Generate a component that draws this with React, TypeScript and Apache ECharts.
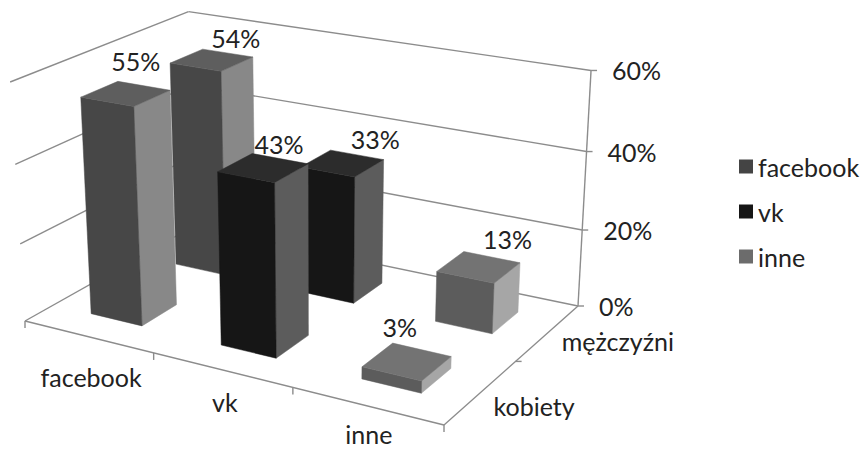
import React, { useEffect, useRef } from "react";
import * as echarts from "echarts";

const categories = ["facebook", "vk", "inne"];
const rows = ["kobiety", "mężczyźni"];
const kobiety = [55, 43, 3];
const mezczyzni = [54, 33, 13];
const tickValues = [0, 20, 40, 60];

const faceColors = [
  { legend: "#444444", front: "#474747", side: "#888888", top: "#5e5e5e" },
  { legend: "#161616", front: "#161616", side: "#5c5c5c", top: "#2c2c2c" },
  { legend: "#6c6c6c", front: "#5c5c5c", side: "#a6a6a6", top: "#737373" },
];
const FONT = '25px Lato';
const TEXT = "#222222";
const LINE = "#8c8c8c";

// perspective frame: floor corners and the vanishing point of the verticals
const floor = { A: [25, 321], B: [444, 425], C: [578, 306], D: [194, 226] };
const VP = [317, 5020];
const K = -0.0484;

function floorMatrix() {
  const [x0, y0] = floor.A, [x1, y1] = floor.B, [x2, y2] = floor.C, [x3, y3] = floor.D;
  const dx1 = x1 - x2, dx2 = x3 - x2, sx = x0 - x1 + x2 - x3;
  const dy1 = y1 - y2, dy2 = y3 - y2, sy = y0 - y1 + y2 - y3;
  const det = dx1 * dy2 - dx2 * dy1;
  const g = (sx * dy2 - dx2 * sy) / det;
  const h = (dx1 * sy - sx * dy1) / det;
  return {
    a: x1 - x0 + g * x1, b: x3 - x0 + h * x3, c: x0,
    d: y1 - y0 + g * y1, e: y3 - y0 + h * y3, f: y0, g, h,
  };
}
const M = floorMatrix();
function project(u: number, v: number, w: number): number[] {
  const n = M.g * u + M.h * v + 1 + K * w;
  return [
    (M.a * u + M.b * v + M.c + K * VP[0] * w) / n,
    (M.d * u + M.e * v + M.f + K * VP[1] * w) / n,
  ];
}
const ratio = (api: any, value: number) => {
  const y0 = api.coord([0, 0])[1];
  const yMax = api.coord([0, tickValues[tickValues.length - 1]])[1];
  return (y0 - api.coord([0, value])[1]) / (y0 - yMax);
};

const HALF_U = 0.2 / 3;
const HALF_V = 0.1;
const rowCentre = [0.255, 0.755];
const labelOffsets = [
  [[10, -33], [16, -24], [-7, -35]],
  [[24, -22], [33, -24], [29, -28]],
];
const catOffsets = [[3, 40], [3, 32], [2, 28]];
const rowOffsets = [[53, 14], [70, 8]];

const line = (p: number[], q: number[]) => ({
  type: "line",
  shape: { x1: p[0], y1: p[1], x2: q[0], y2: q[1] },
  style: { stroke: LINE, lineWidth: 1.4, fill: "none" },
  z2: 1,
  silent: true,
});
const text = (s: string, x: number, y: number, align = "center") => ({
  type: "text",
  x,
  y,
  style: { text: s, font: FONT, lineHeight: 20, fill: TEXT, textAlign: align, textVerticalAlign: "middle" },
  z2: 50,
  silent: true,
});
const poly = (points: number[][], fill: string, z2: number) => ({
  type: "polygon",
  shape: { points },
  style: { fill, stroke: fill, lineWidth: 0.5 },
  z2,
  silent: true,
});

const barItem = (seriesIdx: number) => (_: any, api: any) => {
  const cat = api.value(0);
  const row = api.value(1);
  const value = api.value(2);
  const w = ratio(api, value);
  const u = (cat + 0.5) / 3;
  const v = rowCentre[row];
  const u0 = u - HALF_U, u1 = u + HALF_U, v0 = v - HALF_V, v1 = v + HALF_V;
  const c = faceColors[seriesIdx];
  const z = row === 0 ? 20 : 10;
  const centre = project(u, v, w);
  const off = labelOffsets[row][cat];
  return {
    type: "group",
    children: [
      poly([project(u1, v0, 0), project(u1, v1, 0), project(u1, v1, w), project(u1, v0, w)], c.side, z),
      poly([project(u0, v0, 0), project(u1, v0, 0), project(u1, v0, w), project(u0, v0, w)], c.front, z),
      poly([project(u0, v0, w), project(u1, v0, w), project(u1, v1, w), project(u0, v1, w)], c.top, z),
      text(`${value}%`, centre[0] + off[0], centre[1] + off[1]),
    ],
  };
};

const gridItem = (_: any, api: any) => {
  const value = api.value(1);
  const w = ratio(api, value);
  const a = project(0, 0, w), d = project(0, 1, w), c = project(1, 1, w);
  const children: any[] = [line(a, d), line(d, c), line(c, [c[0] + 6, c[1]])];
  children.push(text(`${value}%`, c[0] + 21, c[1], "left"));
  if (value === 0) {
    const top = project(1, 1, 1);
    children.push(line(c, top));
  }
  return { type: "group", children };
};

const categoryItem = (_: any, api: any) => {
  const i = api.value(0);
  const edge = project((i + 0.5) / 3, 0, 0);
  const children: any[] = [text(categories[i], edge[0] + catOffsets[i][0], edge[1] + catOffsets[i][1])];
  const t0 = project(i / 3, 0, 0);
  children.push(line(t0, [t0[0], t0[1] + 7]));
  if (i === categories.length - 1) {
    const a = project(0, 0, 0), b = project(1, 0, 0), c = project(1, 1, 0);
    children.push(line(a, b), line(b, c), line(b, [b[0], b[1] + 7]));
  }
  return { type: "group", children };
};

const rowItem = (_: any, api: any) => {
  const r = api.value(2);
  const edge = project(1, (r + 0.5) / 2, 0);
  const children: any[] = [text(rows[r], edge[0] + rowOffsets[r][0], edge[1] + rowOffsets[r][1])];
  if (r === 1) {
    const t = project(1, 0.5, 0);
    children.push(line(t, [t[0] + 6, t[1]]));
  }
  return { type: "group", children };
};

export default function App() {
  const ref = useRef<HTMLDivElement>(null);
  useEffect(() => {
    const chart = echarts.init(ref.current!, undefined, { renderer: "svg" });
    const custom = (name: string, renderItem: any, data: any[], dims: any, color?: string) => ({
      type: "custom",
      name,
      renderItem,
      data,
      encode: dims,
      silent: true,
      itemStyle: color ? { color } : undefined,
    });
    chart.setOption({
      animation: false,
      backgroundColor: "#ffffff",
      grid: { left: 578, top: 71, width: 13, height: 235 },
      xAxis: { type: "category", data: categories, show: false },
      yAxis: { type: "value", min: 0, max: 60, interval: 20, show: false },
      legend: {
        orient: "vertical",
        left: 734,
        top: 149,
        itemWidth: 14,
        itemHeight: 14,
        itemGap: 20,
        icon: "rect",
        data: categories,
        textStyle: { fontFamily: "Lato", fontSize: 25, color: TEXT },
        selectedMode: false,
      },
      series: [
        custom("siatka", gridItem, tickValues.map((t) => [0, t]), { x: 0, y: 1 }),
        custom("kategorie", categoryItem, categories.map((_, i) => [i, 0]), { x: 0, y: 1 }),
        custom("wiersze", rowItem, rows.map((_, r) => [0, 0, r]), { x: 0, y: 1 }),
        ...categories.map((name, i) =>
          custom(name, barItem(i), [[i, 0, kobiety[i]], [i, 1, mezczyzni[i]]], { x: 0, y: 2 }, faceColors[i].legend)
        ),
      ],
    });
    return () => chart.dispose();
  }, []);
  return <div ref={ref} style={{ position: "absolute", left: 0, top: 0, width: 863, height: 449 }} />;
}
